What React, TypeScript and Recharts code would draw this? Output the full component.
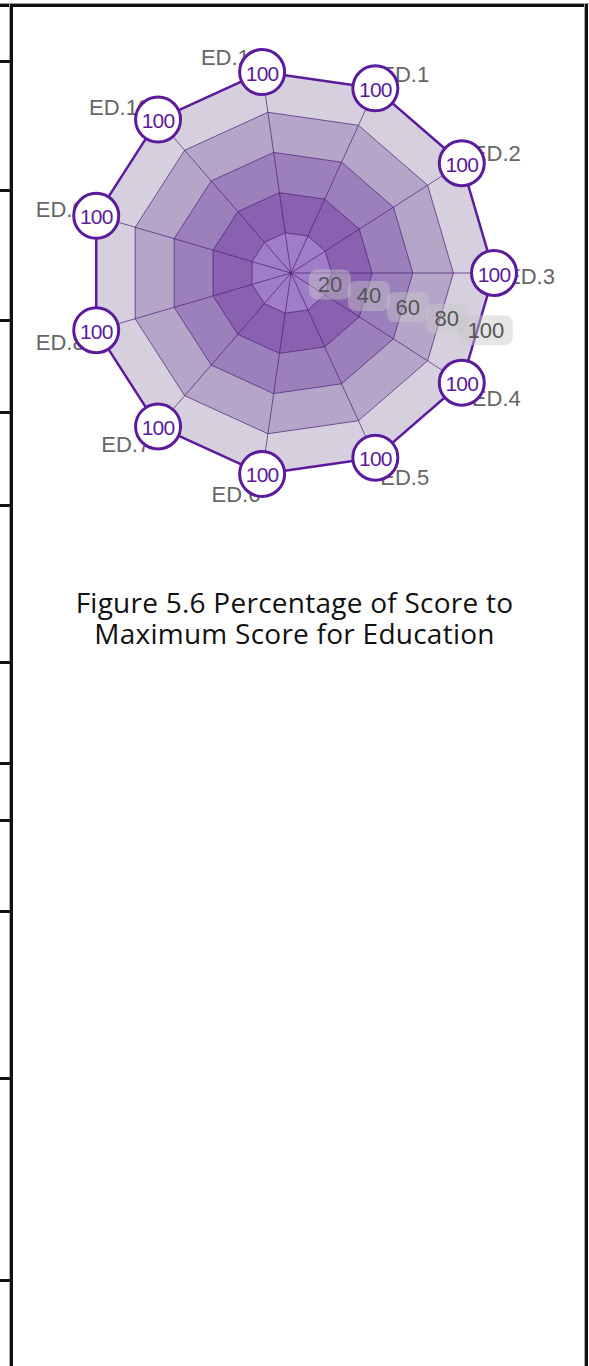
import React from 'react';
import { RadarChart, Radar, PolarAngleAxis, PolarRadiusAxis } from 'recharts';

const categories = ['ED.1', 'ED.2', 'ED.3', 'ED.4', 'ED.5', 'ED.6', 'ED.7', 'ED.8', 'ED.9', 'ED.10', 'ED.11'];
const scores = [100, 100, 100, 100, 100, 100, 100, 100, 100, 100, 100];
const bandLevels = [100, 80, 60, 40, 20];
const bandColors = ['#d6d0de', '#b5a5c9', '#9b80bc', '#8961b0', '#a07dc8'];
const leftTickYs = [61, 190, 320, 412, 505, 662, 763, 820, 911, 1078, 1280];
const titleLines = ['Figure 5.6 Percentage of Score to', 'Maximum Score for Education'];

const data = categories.map((c, i) => {
  const row: any = { name: c, score: scores[i] };
  bandLevels.forEach((l) => {
    row['band' + l] = l;
  });
  return row;
});

const PURPLE = '#5c1b9c';
const GRIDLINE = 'rgba(75,30,115,0.7)';
const FONT = '"Liberation Sans", Arial, sans-serif';

const AngleTick = (props: any) => {
  const { x, y, payload, textAnchor } = props;
  const a = (payload.coordinate * Math.PI) / 180;
  const s = Math.sin(a);
  const dy = s > 0.05 ? -3 : s < -0.05 ? 9 : 3;
  return (
    <text x={x} y={y + dy} textAnchor={textAnchor} dominantBaseline="central" fontSize={22} fill="#666" fontFamily={FONT}>
      {payload.value}
    </text>
  );
};

const RadiusTick = (props: any) => {
  const { x, y, payload } = props;
  if (payload.value === 0) return <g />;
  const label = String(payload.value);
  const w = label.length * 12 + 18;
  return (
    <g>
      <rect x={x - w / 2} y={y - 15} width={w} height={30} rx={8} fill="rgba(200,200,200,0.45)" />
      <text x={x} y={y} textAnchor="middle" dominantBaseline="central" fontSize={22} fill="#555" fontFamily={FONT}>
        {label}
      </text>
    </g>
  );
};

const ScoreShape = (props: any) => {
  const pts: any[] = props.points || [];
  if (!pts.length) return <g />;
  const ax = pts.reduce((s, p) => s + p.x, 0) / pts.length;
  const ay = pts.reduce((s, p) => s + p.y, 0) / pts.length;
  const d = pts.map((p, i) => `${i ? 'L' : 'M'}${p.x},${p.y}`).join('') + 'Z';
  return (
    <g>
      {pts.map((p, i) => (
        <line
          key={i}
          x1={typeof p.cx === 'number' ? p.cx : ax}
          y1={typeof p.cy === 'number' ? p.cy : ay}
          x2={p.x}
          y2={p.y}
          stroke={GRIDLINE}
          strokeWidth={1}
        />
      ))}
      <path d={d} fill="none" stroke={PURPLE} strokeWidth={2.5} strokeLinejoin="round" />
    </g>
  );
};

const Badge = (props: any) => {
  const { cx, cy } = props;
  const v =
    typeof props.value === 'number'
      ? props.value
      : props.payload?.value ?? props.payload?.score ?? props.payload?.payload?.score;
  return (
    <g>
      <circle cx={cx} cy={cy} r={22.5} fill="#fff" stroke={PURPLE} strokeWidth={3} />
      <text x={cx} y={cy + 1} textAnchor="middle" dominantBaseline="central" fontSize={21} letterSpacing={-0.8} fill={PURPLE} fontFamily={FONT}>
        {v}
      </text>
    </g>
  );
};

const line = (style: React.CSSProperties) => <div style={{ position: 'absolute', background: '#111', ...style }} />;

export default function App() {
  return (
    <div style={{ position: 'absolute', left: 0, top: 0, width: 589, height: 1366, background: '#fff', overflow: 'hidden' }}>
      {line({ left: 0, top: 3, width: 589, height: 1, background: '#999' })}
      {line({ left: 0, top: 4, width: 588, height: 3 })}
      {line({ left: 9, top: 4, width: 1, height: 1362, background: '#aaa' })}
      {line({ left: 10, top: 4, width: 3, height: 1362 })}
      {line({ left: 584, top: 4, width: 1, height: 1362, background: '#aaa' })}
      {line({ left: 585, top: 4, width: 3, height: 1362 })}
      {leftTickYs.map((y) => (
        <div key={y} style={{ position: 'absolute', left: 0, top: y - 1, width: 11, height: 3, background: '#111' }} />
      ))}
      <div style={{ position: 'absolute', left: 0, top: 0 }}>
        <RadarChart
          width={589}
          height={560}
          data={data}
          cx={291}
          cy={273}
          outerRadius={203}
          startAngle={65.4545}
          endAngle={-294.5455}
          margin={{ top: 0, right: 0, bottom: 0, left: 0 }}
        >
          {bandLevels.map((l, i) => (
            <Radar
              key={l}
              dataKey={'band' + l}
              fill={bandColors[i]}
              fillOpacity={1}
              stroke={GRIDLINE}
              strokeWidth={1}
              dot={false}
              isAnimationActive={false}
            />
          ))}
          <PolarAngleAxis dataKey="name" tick={<AngleTick />} tickLine={false} axisLine={false} tickSize={12} />
          <PolarRadiusAxis
            angle={-16.3636}
            domain={[0, 100]}
            tickCount={6}
            axisLine={false}
            tick={<RadiusTick />}
          />
          <Radar
            dataKey="score"
            shape={<ScoreShape />}
            fill="none"
            fillOpacity={0}
            stroke={PURPLE}
            strokeWidth={2.5}
            dot={<Badge />}
            isAnimationActive={false}
          />
        </RadarChart>
      </div>
      <div
        style={{
          position: 'absolute',
          left: 0,
          top: 587,
          width: 589,
          textAlign: 'center',
          fontFamily: '"Open Sans", sans-serif',
          fontSize: 28,
          letterSpacing: 0.25,
          lineHeight: '31px',
          color: '#111',
        }}
      >
        <div>{titleLines[0]}</div>
        <div>{titleLines[1]}</div>
      </div>
    </div>
  );
}
